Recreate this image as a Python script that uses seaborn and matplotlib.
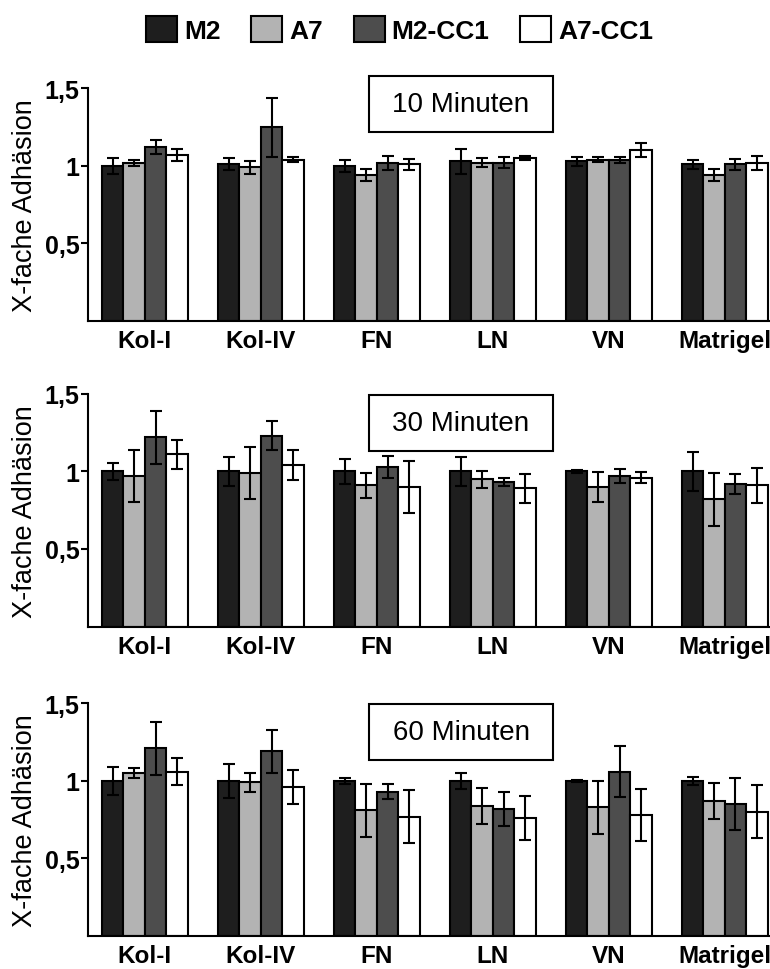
import numpy as np
import pandas as pd
import seaborn as sns
import matplotlib.pyplot as plt
from matplotlib.patches import Rectangle

sns.set_theme(style='ticks')
plt.rcParams['font.family'] = ['Liberation Sans', 'DejaVu Sans']
plt.rcParams.update({'text.color': 'black', 'axes.labelcolor': 'black',
                     'xtick.color': 'black', 'ytick.color': 'black'})

categories = ['Kol-I', 'Kol-IV', 'FN', 'LN', 'VN', 'Matrigel']
series = ['M2', 'A7', 'M2-CC1', 'A7-CC1']
colors = ['#1e1e1e', '#b3b3b3', '#4d4d4d', '#ffffff']
times = ['10 Minuten', '30 Minuten', '60 Minuten']

# 10 Minuten
m2_10 = [1.00, 1.01, 1.00, 1.03, 1.03, 1.01]
a7_10 = [1.02, 0.99, 0.94, 1.02, 1.04, 0.94]
m2cc1_10 = [1.12, 1.25, 1.02, 1.02, 1.04, 1.01]
a7cc1_10 = [1.07, 1.04, 1.01, 1.05, 1.10, 1.02]
m2_10_err = [0.05, 0.04, 0.04, 0.08, 0.03, 0.03]
a7_10_err = [0.02, 0.04, 0.04, 0.03, 0.015, 0.04]
m2cc1_10_err = [0.045, 0.19, 0.045, 0.035, 0.02, 0.035]
a7cc1_10_err = [0.04, 0.015, 0.035, 0.015, 0.045, 0.045]

# 30 Minuten
m2_30 = [1.00, 1.00, 1.00, 1.00, 1.00, 1.00]
a7_30 = [0.97, 0.99, 0.91, 0.95, 0.90, 0.82]
m2cc1_30 = [1.22, 1.23, 1.03, 0.93, 0.97, 0.92]
a7cc1_30 = [1.11, 1.04, 0.90, 0.89, 0.96, 0.91]
m2_30_err = [0.055, 0.095, 0.08, 0.095, 0.01, 0.125]
a7_30_err = [0.17, 0.17, 0.08, 0.055, 0.095, 0.17]
m2cc1_30_err = [0.17, 0.095, 0.07, 0.025, 0.045, 0.065]
a7cc1_30_err = [0.095, 0.095, 0.17, 0.095, 0.035, 0.115]

# 60 Minuten
m2_60 = [1.00, 1.00, 1.00, 1.00, 1.00, 1.00]
a7_60 = [1.05, 0.99, 0.81, 0.84, 0.83, 0.87]
m2cc1_60 = [1.21, 1.19, 0.93, 0.82, 1.06, 0.85]
a7cc1_60 = [1.06, 0.96, 0.77, 0.76, 0.78, 0.80]
m2_60_err = [0.09, 0.11, 0.02, 0.05, 0.005, 0.025]
a7_60_err = [0.035, 0.06, 0.17, 0.115, 0.17, 0.115]
m2cc1_60_err = [0.17, 0.14, 0.05, 0.11, 0.165, 0.17]
a7cc1_60_err = [0.09, 0.11, 0.17, 0.14, 0.17, 0.17]

panels = [
    ([m2_10, a7_10, m2cc1_10, a7cc1_10], [m2_10_err, a7_10_err, m2cc1_10_err, a7cc1_10_err]),
    ([m2_30, a7_30, m2cc1_30, a7cc1_30], [m2_30_err, a7_30_err, m2cc1_30_err, a7cc1_30_err]),
    ([m2_60, a7_60, m2cc1_60, a7cc1_60], [m2_60_err, a7_60_err, m2cc1_60_err, a7cc1_60_err]),
]

fig = plt.figure(figsize=(7.7, 9.7), dpi=100)
bottoms = [0.668, 0.353, 0.034]
box_y = [0.811, 0.753, 0.756]

handles = None
for i, (vals, errs) in enumerate(panels):
    ax = fig.add_axes([0.1143, bottoms[i], 0.8857, 0.24])
    df = pd.DataFrame({
        'substrat': categories * len(series),
        'linie': np.repeat(series, len(categories)),
        'wert': np.concatenate(vals),
    })
    sns.barplot(data=df, x='substrat', y='wert', hue='linie', order=categories, hue_order=series,
                palette=colors, saturation=1, width=0.74, edgecolor='black', linewidth=1.5,
                errorbar=None, ax=ax)
    if i == 0:
        handles, labels = ax.get_legend_handles_labels()
    ax.get_legend().remove()

    for cont, e in zip(ax.containers, errs):
        xs = [b.get_x() + b.get_width() / 2 for b in cont]
        ys = [b.get_height() for b in cont]
        ax.errorbar(xs, ys, yerr=e, fmt='none', ecolor='black', elinewidth=1.5,
                    capsize=4, capthick=1.5, zorder=5)

    sns.despine(ax=ax)
    ax.set_xlim(-0.49, 5.39)
    ax.set_ylim(0, 1.5)
    ax.set_yticks([0.5, 1, 1.5])
    ax.set_yticklabels(['0,5', '1', '1,5'])
    ax.tick_params(axis='y', length=5, width=1.5, pad=1, labelsize=18)
    ax.tick_params(axis='x', length=0, pad=6, labelsize=17.5)
    for lab in ax.get_xticklabels() + ax.get_yticklabels():
        lab.set_fontweight('bold')
    for s in ['left', 'bottom']:
        ax.spines[s].set_linewidth(1.5)
        ax.spines[s].set_color('black')
    ax.set_xlabel('')
    ax.set_ylabel('X-fache Adhäsion', fontsize=19.5, labelpad=5)

    ax.add_patch(Rectangle((0.412, box_y[i]), 0.27, 0.24, transform=ax.transAxes,
                           facecolor='white', edgecolor='black', linewidth=1.5,
                           clip_on=False, zorder=10))
    ax.text(0.412 + 0.135, box_y[i] + 0.12, times[i], transform=ax.transAxes,
            ha='center', va='center', fontsize=20, zorder=11)

fig.legend(handles, labels, loc='center', bbox_to_anchor=(0.519, 0.969), ncol=4,
           frameon=False, prop={'weight': 'bold', 'size': 19},
           handlelength=1.17, handleheight=1.14, handletextpad=0.27, columnspacing=1.17)

fig.savefig('out.png', dpi=100)
